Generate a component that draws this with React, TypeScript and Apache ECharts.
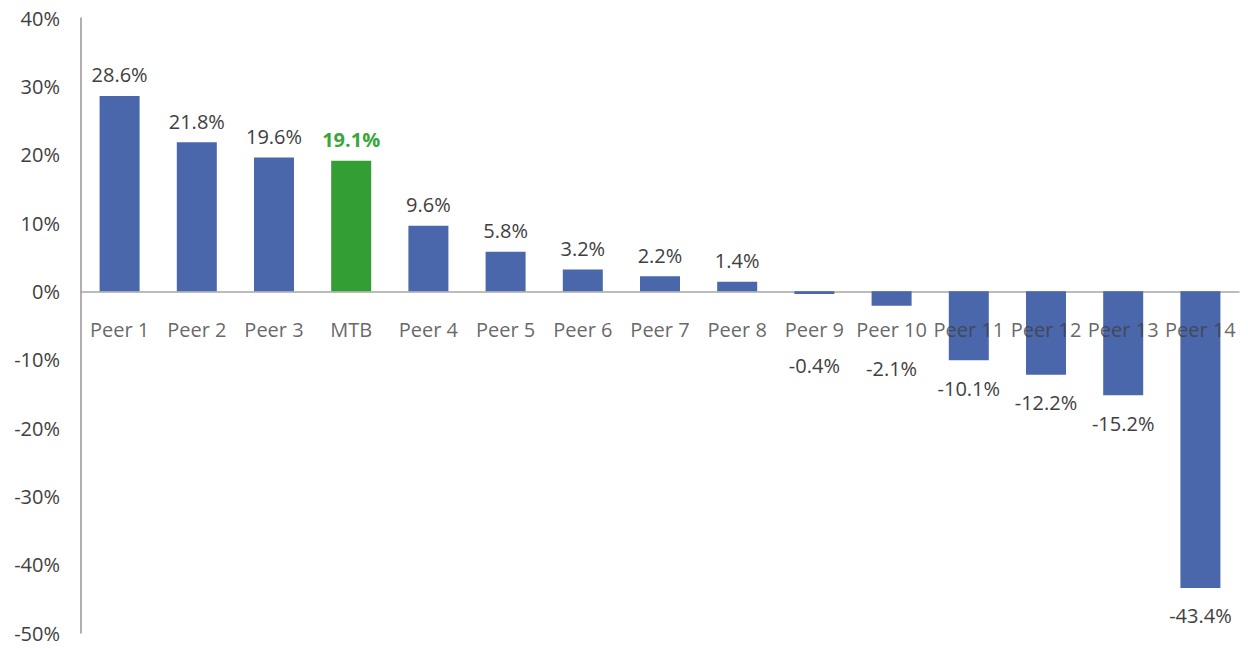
import React, { useEffect, useRef } from "react";
import * as echarts from "echarts";

const categories = ["Peer 1", "Peer 2", "Peer 3", "MTB", "Peer 4", "Peer 5", "Peer 6", "Peer 7", "Peer 8", "Peer 9", "Peer 10", "Peer 11", "Peer 12", "Peer 13", "Peer 14"];
const values = [28.6, 21.8, 19.6, 19.1, 9.6, 5.8, 3.2, 2.2, 1.4, -0.4, -2.1, -10.1, -12.2, -15.2, -43.4];
const highlight = "MTB";
// extra label distance for small negative bars whose labels sit below the category labels
const labelDistances: Record<string, number> = { "Peer 9": 61, "Peer 10": 53 };

const FONT = "'Open Sans', 'Noto Sans', sans-serif";
const BLUE = "#4a67ab";
const GREEN = "#339e33";
const TEXT = "#404040";

export default function App() {
  const ref = useRef<HTMLDivElement>(null);
  useEffect(() => {
    if (!ref.current) return;
    const chart = echarts.init(ref.current, undefined, { renderer: "svg" });
    const data = values.map((v, i) => {
      const cat = categories[i];
      const isHi = cat === highlight;
      const neg = v < 0;
      return {
        value: v,
        itemStyle: { color: isHi ? GREEN : BLUE },
        label: {
          show: true,
          position: neg ? "bottom" : "top",
          distance: neg ? (labelDistances[cat] ?? 18) : 11,
          color: isHi ? "#3aa63a" : TEXT,
          fontWeight: isHi ? "bold" : "normal",
        },
      };
    });
    const nameData = categories.map((c) => [c, 0]);
    chart.setOption({
      animation: false,
      backgroundColor: "#ffffff",
      grid: { left: 81, right: 9, top: 18, bottom: 15, containLabel: false, outerBoundsMode: "none" },
      xAxis: {
        type: "category",
        data: categories,
        axisLine: { onZero: true, lineStyle: { color: "#a6a6a6", width: 1.5 } },
        axisTick: { show: false },
        axisLabel: { show: false },
        splitLine: { show: false },
      },
      yAxis: {
        type: "value",
        min: -50,
        max: 40,
        interval: 10,
        axisLine: { show: true, lineStyle: { color: "#9e9393", width: 1.5 } },
        axisTick: { show: false },
        splitLine: { show: false },
        axisLabel: {
          margin: 21,
          color: TEXT,
          fontSize: 20,
          fontFamily: FONT,
          formatter: (v: number) => `${v}%`,
        },
      },
      series: [
        {
          type: "bar",
          data,
          barWidth: 40,
          label: {
            fontSize: 20,
            fontFamily: FONT,
            formatter: (p: any) => `${Number(p.value).toFixed(1)}%`,
          },
        },
        {
          type: "scatter",
          data: nameData,
          symbolSize: 0,
          silent: true,
          z: 5,
          label: {
            show: true,
            position: "bottom",
            distance: 28,
            color: TEXT,
            fontSize: 20,
            fontFamily: FONT,
            formatter: (p: any) => p.value[0],
          },
        },
      ],
    });
    return () => chart.dispose();
  }, []);
  return <div ref={ref} style={{ width: 1248, height: 648, position: "absolute", left: 0, top: 0 }} />;
}
